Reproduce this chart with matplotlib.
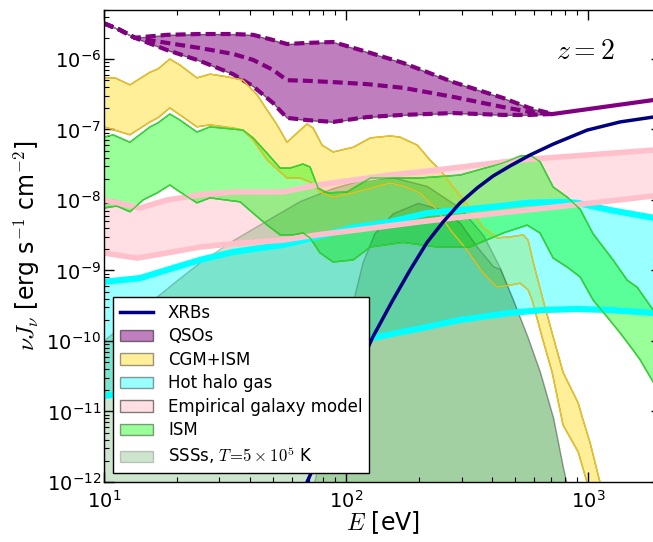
import numpy as np
import matplotlib
matplotlib.use("Agg")
import matplotlib.pyplot as plt
from matplotlib.ticker import LogLocator, FixedLocator, FuncFormatter, NullFormatter

plt.rcParams["font.family"] = ["DejaVu Sans"]
plt.rcParams["mathtext.fontset"] = "cm"

# ---------------- spectra (E in eV, nu*J_nu in erg s^-1 cm^-2) ----------------
# X-ray binaries
xrb_E = [67.7, 69.0, 94.5, 129, 156, 184, 216, 252, 296, 348, 405, 476, 576, 717,
         991, 1356, 1856, 2003]
xrb = [8.5e-13, 1.0e-12, 1.12e-11, 1.14e-10, 3.8e-10, 1.02e-9, 2.5e-9, 4.9e-9,
       9.1e-9, 1.48e-8, 2.19e-8, 3.04e-8, 4.35e-8, 6.2e-8, 9.8e-8, 1.28e-7,
       1.5e-7, 1.53e-7]

# QSO background: upper / middle / lower model and common hard tail
qso_E = [10.0, 11.6, 13.4, 18.2, 24.9, 34.1, 41.3, 49.9, 57.0, 69.0, 88.4, 122,
         172, 277, 445, 576, 716]
qso_hi = [3.2e-6, 2.6e-6, 2.0e-6, 2.2e-6, 2.26e-6, 2.26e-6, 2.2e-6, 1.86e-6,
          1.63e-6, 1.69e-6, 1.74e-6, 1.26e-6, 8.8e-7, 4.7e-7, 2.8e-7, 2.0e-7, 1.66e-7]
qso_mid = [3.2e-6, 2.6e-6, 2.0e-6, 1.69e-6, 1.43e-6, 1.18e-6, 9.7e-7, 7.0e-7,
           5.0e-7, 4.9e-7, 4.7e-7, 4.4e-7, 3.9e-7, 2.9e-7, 2.08e-7, 1.77e-7, 1.66e-7]
qso_lo = [3.2e-6, 2.6e-6, 2.0e-6, 1.34e-6, 9.4e-7, 6.1e-7, 4.1e-7, 2.38e-7,
          1.46e-7, 1.36e-7, 1.28e-7, 1.5e-7, 1.61e-7, 1.71e-7, 1.61e-7, 1.61e-7, 1.66e-7]
qso_tail_E = [716, 2003]
qso_tail = [1.66e-7, 2.71e-7]

# CGM+ISM band
cgm_hi_E = [10.0, 11.1, 12.8, 15.5, 16.7, 18.7, 20.6, 24.2, 27.4, 32.2, 37.5, 42.9,
            47.2, 51.9, 57.0, 62.7, 69.0, 73.1, 79.6, 88.4, 107, 126, 152, 167, 197,
            222, 245, 277, 325, 368, 421, 476, 539, 565, 593, 652, 710, 788, 910,
            945, 1019, 1121, 1153]
cgm_hi = [5.4e-7, 5.4e-7, 4.3e-7, 6.5e-7, 7.2e-7, 1.0e-6, 8.2e-7, 5.4e-7, 6.1e-7,
          5.6e-7, 5.0e-7, 3.1e-7, 1.89e-7, 1.16e-7, 6.6e-8, 8.9e-8, 1.2e-7, 1.05e-7,
          6.0e-8, 4.8e-8, 5.6e-8, 7.6e-8, 8.1e-8, 7.8e-8, 6.0e-8, 3.7e-8, 2.66e-8,
          1.53e-8, 7.7e-9, 4.1e-9, 2.9e-9, 3.0e-9, 3.2e-9, 2.7e-9, 1.32e-9, 3.8e-10,
          1.3e-10, 3.6e-11, 1.32e-11, 8.4e-12, 3.6e-12, 9.7e-13, 7.7e-13]
cgm_lo_E = [10.0, 12.8, 15.5, 16.7, 18.7, 20.6, 24.2, 27.4, 34.1, 37.5, 41.3, 47.2,
            53.4, 57.0, 64.5, 71.0, 78.1, 88.4, 107, 152, 172, 202, 238, 269, 316,
            368, 421, 476, 524, 565, 587, 645, 710, 788, 910, 991, 1019]
cgm_lo = [1.09e-7, 8.4e-8, 1.28e-7, 1.46e-7, 2.02e-7, 1.61e-7, 1.09e-7, 1.16e-7,
          1.05e-7, 9.8e-8, 7.1e-8, 3.7e-8, 2.5e-8, 2.05e-8, 2.05e-8, 1.8e-8, 1.3e-8,
          1.1e-8, 1.26e-8, 1.74e-8, 1.58e-8, 1.26e-8, 7.2e-9, 3.8e-9, 1.95e-9,
          9.2e-10, 5.8e-10, 6.2e-10, 6.6e-10, 5.3e-10, 3.8e-10, 1.14e-10, 3.6e-11,
          6.4e-12, 2.66e-12, 9.7e-13, 7.7e-13]

# Hot halo gas band
hot_hi_E = [10.0, 14.1, 18.2, 24.9, 34.1, 47.2, 54.9, 75.9, 104, 152, 216, 405, 560,
            766, 901, 1233, 1856, 2003]
hot_hi = [6.9e-10, 7.8e-10, 1.02e-9, 1.41e-9, 1.83e-9, 2.15e-9, 2.3e-9, 3.0e-9,
          4.0e-9, 4.9e-9, 6.5e-9, 8.0e-9, 9.1e-9, 9.4e-9, 9.1e-9, 7.2e-9, 5.6e-9, 5.4e-9]
hot_lo_E = [10.0, 10.6, 14.1, 18.2, 24.9, 34.1, 47.2, 64.5, 88.4, 128, 216, 296, 476,
            652, 901, 1233, 1856, 2003]
hot_lo = [1.66e-11, 1.71e-11, 1.89e-11, 2.38e-11, 3.3e-11, 4.3e-11, 5.4e-11, 6.3e-11,
          8.2e-11, 1.1e-10, 1.58e-10, 1.99e-10, 2.5e-10, 2.75e-10, 2.84e-10, 2.75e-10,
          2.5e-10, 2.45e-10]

# Empirical galaxy model band
gal_hi_E = [10.0, 14.1, 18.2, 24.9, 34.1, 54.9, 75.9, 152, 202, 524, 1856, 2003]
gal_hi = [1.0e-8, 7.7e-9, 1.0e-8, 1.18e-8, 1.3e-8, 1.3e-8, 1.63e-8, 2.26e-8, 2.5e-8,
          3.7e-8, 5.1e-8, 5.3e-8]
gal_lo_E = [10.0, 13.7, 18.2, 24.9, 34.1, 54.9, 75.9, 114, 202, 296, 560, 1049, 1856, 2003]
gal_lo = [1.77e-9, 1.5e-9, 1.77e-9, 2.15e-9, 2.4e-9, 2.7e-9, 3.2e-9, 3.8e-9, 4.9e-9,
          5.7e-9, 7.2e-9, 9.1e-9, 1.14e-8, 1.18e-8]

# ISM band
ism_hi_E = [10.0, 10.9, 12.8, 15.5, 16.7, 18.7, 20.6, 24.2, 27.4, 37.5, 41.3, 47.2,
            53.4, 58.7, 66.4, 71.0, 76.6, 83.5, 101, 126, 202, 296, 446, 524, 576,
            633, 717, 819, 927, 1049, 1268, 1449, 1594, 1856, 2003]
ism_hi = [7.8e-8, 8.4e-8, 6.6e-8, 1.09e-7, 1.24e-7, 1.66e-7, 1.36e-7, 9.2e-8, 1.09e-7,
          9.8e-8, 7.6e-8, 4.6e-8, 2.84e-8, 2.84e-8, 3.24e-8, 2.94e-8, 1.48e-8, 1.26e-8,
          1.3e-8, 2.05e-8, 2.05e-8, 2.26e-8, 3.35e-8, 4.2e-8, 4.3e-8, 3.5e-8, 1.53e-8,
          1.1e-8, 7.4e-9, 3.3e-9, 1.41e-9, 7.3e-10, 5.8e-10, 2.75e-10, 1.9e-10]
ism_lo_E = [10.0, 11.3, 12.8, 14.5, 16.6, 18.7, 20.6, 24.2, 27.4, 36.5, 41.3, 47.2,
            53.4, 60.4, 66.4, 71.0, 78.1, 88.4, 107, 126, 172, 238, 325, 446, 560,
            633, 717, 819, 927, 1049, 1198, 1356, 1535, 1640, 1856, 2003]
ism_lo = [7.7e-9, 8.2e-9, 6.8e-9, 1.0e-8, 1.26e-8, 1.63e-8, 1.3e-8, 9.1e-9, 1.07e-8,
          9.4e-9, 6.5e-9, 4.4e-9, 3.2e-9, 3.2e-9, 3.4e-9, 2.9e-9, 1.77e-9, 1.32e-9,
          1.41e-9, 2.15e-9, 2.5e-9, 2.15e-9, 2.15e-9, 3.4e-9, 4.4e-9, 3.4e-9, 1.5e-9,
          1.12e-9, 8.1e-10, 3.8e-10, 2.19e-10, 1.3e-10, 7.4e-11, 5.4e-11, 2.62e-11, 1.71e-11]

# Supersoft sources, T = 5e5 K (two absorption cases)
sss_wide_E = [10.0, 14.1, 20.0, 24.9, 34.1, 47.2, 64.5, 88.4, 114, 156, 216, 296,
              368, 433, 490, 560, 633, 717, 788, 827]
sss_wide = [1.03e-10, 2.75e-10, 7.3e-10, 1.32e-9, 2.7e-9, 5.2e-9, 9.7e-9, 1.48e-8,
            1.9e-8, 2.1e-8, 1.58e-8, 7.7e-9, 3.2e-9, 1.08e-9, 3.8e-10, 1.18e-10,
            3.6e-11, 8.1e-12, 1.58e-12, 7.7e-13]
sss_narrow_E = [73.1, 74.5, 85.9, 101, 107, 117, 131, 156, 198, 252, 296, 348, 405,
                433, 490, 560, 633, 717, 788, 827]
sss_narrow = [9.0e-13, 1.14e-12, 1.46e-11, 1.58e-10, 3.8e-10, 1.32e-9, 3.4e-9, 6.5e-9,
              9.1e-9, 7.2e-9, 4.7e-9, 2.15e-9, 1.15e-9, 1.05e-9, 3.8e-10, 1.18e-10,
              3.6e-11, 8.1e-12, 1.58e-12, 7.7e-13]

labels = ["XRBs", "QSOs", "CGM+ISM", "Hot halo gas", "Empirical galaxy model", "ISM",
          r"SSSs, $T\!=\!5\times10^5$ K"]

E_LIM = (10, 2000)
J_LIM = (1e-12, 5e-6)
SSS_FLOOR = 1e-14


def band(ax, xe_hi, hi, xe_lo, lo, **kw):
    """Filled region enclosed by an upper and a lower curve."""
    xs = np.concatenate([np.asarray(xe_hi, float), np.asarray(xe_lo, float)[::-1]])
    ys = np.concatenate([np.asarray(hi, float), np.asarray(lo, float)[::-1]])
    return ax.fill(xs, ys, **kw)[0]


fig = plt.figure(figsize=(6.53, 5.42), dpi=100)
ax = fig.add_axes([104 / 653, 60 / 542, 557 / 653, 472.3 / 542])
ax.set_xscale("log")
ax.set_yscale("log")

# XRBs
xrb_line, = ax.plot(xrb_E, xrb, color="navy", lw=2.5, zorder=4)

# QSOs
qso_patch = ax.fill_between(qso_E, qso_lo, qso_hi, facecolor="purple",
                            edgecolor="k", alpha=0.5, lw=1)
for curve in (qso_hi, qso_mid, qso_lo):
    ax.plot(qso_E, curve, color="purple", lw=3, dashes=(2.4, 1.2))
ax.plot(qso_tail_E, qso_tail, color="purple", lw=3)

# CGM+ISM
cgm_patch = band(ax, cgm_hi_E, cgm_hi, cgm_lo_E, cgm_lo,
                 facecolor="gold", edgecolor="k", alpha=0.4, lw=1)
ax.plot(cgm_hi_E, cgm_hi, color="#EBC31E", lw=1)
ax.plot(cgm_lo_E, cgm_lo, color="#EBC31E", lw=1)

# Hot halo gas
hot_patch = band(ax, hot_hi_E, hot_hi, hot_lo_E, hot_lo,
                 facecolor="cyan", edgecolor="k", alpha=0.4, lw=1)
ax.plot(hot_hi_E, hot_hi, color="cyan", lw=4.5)
ax.plot(hot_lo_E, hot_lo, color="cyan", lw=4.5)

# Empirical galaxy model
gal_patch = band(ax, gal_hi_E, gal_hi, gal_lo_E, gal_lo,
                 facecolor="pink", edgecolor="k", alpha=0.5, lw=1)
ax.plot(gal_hi_E, gal_hi, color="pink", lw=4)
ax.plot(gal_lo_E, gal_lo, color="pink", lw=4)

# ISM
ism_patch = band(ax, ism_hi_E, ism_hi, ism_lo_E, ism_lo,
                 facecolor="lime", edgecolor="k", alpha=0.4, lw=1)
ax.plot(ism_hi_E, ism_hi, color="#2ED82E", lw=1)
ax.plot(ism_lo_E, ism_lo, color="#2ED82E", lw=1)

# SSSs
sss_patch = ax.fill_between(sss_wide_E, SSS_FLOOR, sss_wide, facecolor="green",
                            edgecolor="k", alpha=0.2, lw=1)
ax.fill_between(sss_narrow_E, SSS_FLOOR, sss_narrow, facecolor="green",
                edgecolor="k", alpha=0.2, lw=1)

ax.set_xlim(*E_LIM)
ax.set_ylim(*J_LIM)

fmt = FuncFormatter(lambda v, pos: r"$\mathregular{10^{%d}}$" % int(round(np.log10(v))))
x_decades = 10.0 ** np.arange(np.ceil(np.log10(E_LIM[0])), np.floor(np.log10(E_LIM[1])) + 1)
y_decades = 10.0 ** np.arange(np.ceil(np.log10(J_LIM[0])), np.floor(np.log10(J_LIM[1])) + 1)
ax.xaxis.set_major_locator(FixedLocator(x_decades))
ax.yaxis.set_major_locator(FixedLocator(y_decades))
for axis in (ax.xaxis, ax.yaxis):
    axis.set_minor_locator(LogLocator(base=10, subs=np.arange(2, 10), numticks=20))
    axis.set_major_formatter(fmt)
    axis.set_minor_formatter(NullFormatter())

ax.tick_params(which="both", direction="in", top=True, right=True, labelsize=14)
ax.tick_params(which="major", length=7, width=1)
ax.tick_params(which="minor", length=3.5, width=0.8)
ax.tick_params(axis="x", pad=6)
ax.tick_params(axis="y", pad=2)
for sp in ax.spines.values():
    sp.set_linewidth(1.0)

ax.set_xlabel(r"$E$ [eV]", fontsize=17)
ax.set_ylabel(r"$\nu J_\nu$ [erg s$^{-1}$ cm$^{-2}$]", fontsize=17)
ax.xaxis.set_label_coords(0.5, -0.057)
ax.yaxis.set_label_coords(-0.111, 0.5)

ax.text(0.864, 0.9125, r"$z=2$", transform=ax.transAxes, fontsize=20,
        ha="center", va="center")

leg = ax.legend([xrb_line, qso_patch, cgm_patch, hot_patch, gal_patch, ism_patch, sss_patch],
                labels, loc="lower left", bbox_to_anchor=(0.016, 0.019),
                borderaxespad=0, fontsize=12, fancybox=False, framealpha=1,
                edgecolor="k", labelspacing=0.33, handlelength=2.0,
                handleheight=0.7, handletextpad=0.9, borderpad=0.4)
leg.get_frame().set_linewidth(1.0)

fig.savefig("out.png", dpi=100)
